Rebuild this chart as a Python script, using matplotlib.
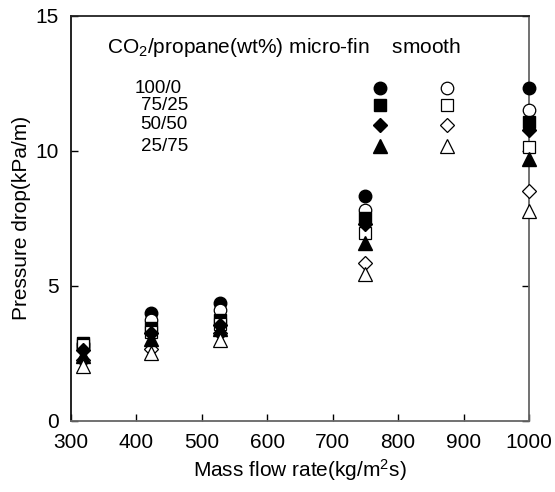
import matplotlib
matplotlib.use("Agg")
import matplotlib.pyplot as plt

plt.rcParams['font.family'] = ['Liberation Sans', 'DejaVu Sans']
plt.rcParams['mathtext.fontset'] = 'custom'
plt.rcParams['mathtext.rm'] = 'Liberation Sans'
plt.rcParams['mathtext.it'] = 'Liberation Sans'
plt.rcParams['mathtext.default'] = 'regular'

mass = [318, 423, 528, 749, 1000]

mf_100 = [2.85, 4.0, 4.38, 8.33, 12.3]
sm_100 = [2.75, 3.75, 4.12, 7.8, 11.5]
mf_75 = [2.9, 3.45, 3.72, 7.5, 11.05]
sm_75 = [2.8, 3.3, 3.6, 6.95, 10.15]
mf_50 = [2.62, 3.25, 3.55, 7.3, 10.75]
sm_50 = [2.25, 2.65, 3.25, 5.85, 8.5]
mf_25 = [2.4, 3.05, 3.4, 6.6, 9.7]
sm_25 = [2.05, 2.5, 3.0, 5.42, 7.77]

ratios = ["100/0", "75/25", "50/50", "25/75"]
xticks = [300, 400, 500, 600, 700, 800, 900, 1000]
yticks = [0, 5, 10, 15]

fig = plt.figure(figsize=(5.55, 4.92), dpi=100)
ax = fig.add_axes([71/555, (492-421)/492, 458/555, 405.5/492])

markers = ['o', 's', 'D', '^']
sizes = [9, 9, 7.5, 9.5]
mf = [mf_100, mf_75, mf_50, mf_25]
sm = [sm_100, sm_75, sm_50, sm_25]

for i in range(4):
    ax.plot(mass, mf[i], linestyle='none', marker=markers[i], ms=sizes[i],
            mfc='black', mec='black', mew=1.0, clip_on=False, zorder=3 + 2 * i)
    ax.plot(mass, sm[i], linestyle='none', marker=markers[i], ms=sizes[i],
            mfc='white', mec='black', mew=0.9, clip_on=False, zorder=4 + 2 * i)

# legend-like annotation block
ax.text(0.079, 0.92, "CO$_2$/propane(wt%) micro-fin    smooth",
        transform=ax.transAxes, fontsize=15, va='center', ha='left')
row_y = [0.821, 0.779, 0.730, 0.678]
row_x = [0.140, 0.152, 0.152, 0.152]
for i, lab in enumerate(ratios):
    ax.text(row_x[i], row_y[i], lab, transform=ax.transAxes,
            fontsize=13.5, va='center', ha='left')
    ax.plot([0.675], [row_y[i]], transform=ax.transAxes, linestyle='none',
            marker=markers[i], ms=sizes[i], mfc='black', mec='black')
    ax.plot([0.821], [row_y[i]], transform=ax.transAxes, linestyle='none',
            marker=markers[i], ms=sizes[i], mfc='white', mec='black', mew=0.9)

ax.set_xlim(300, 1000)
ax.set_ylim(0, 15)
ax.set_xticks(xticks)
ax.set_yticks(yticks)
ax.tick_params(direction='in', length=5, width=1, labelsize=15,
               left=True, right=True, bottom=True, top=False, pad=9)
ax.spines['left'].set_color('#111111')
ax.spines['top'].set_color('#222222')
ax.spines['bottom'].set_color('#666666')
ax.spines['right'].set_color('#666666')
for s in ax.spines.values():
    s.set_linewidth(1.3)

ax.set_xlabel("Mass flow rate(kg/m$^2$s)", fontsize=15, labelpad=3)
ax.set_ylabel("Pressure drop(kPa/m)", fontsize=15, labelpad=3)

fig.savefig("out.png", dpi=100)
